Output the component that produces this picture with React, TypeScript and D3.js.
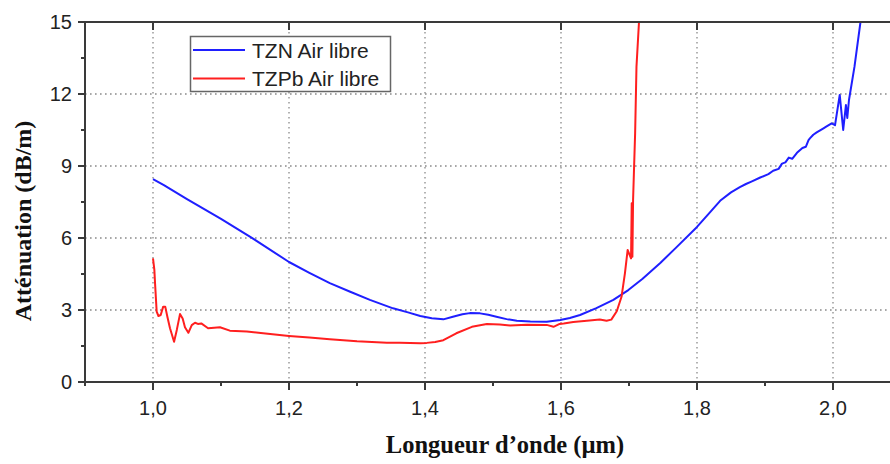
import React from 'react';
import * as d3 from 'd3';

// ---- data ----
const tznWavelength = [
  1.0, 1.016, 1.05, 1.1, 1.143, 1.2, 1.23, 1.26, 1.29, 1.319, 1.353, 1.375, 1.393, 1.41, 1.427,
  1.441, 1.455, 1.466, 1.481, 1.493, 1.505, 1.52, 1.535, 1.555, 1.579, 1.599, 1.613, 1.628, 1.652,
  1.677, 1.699, 1.72, 1.746, 1.77, 1.8, 1.82, 1.834, 1.85, 1.863, 1.872, 1.88, 1.893, 1.905, 1.912,
  1.92, 1.925, 1.93, 1.935, 1.94, 1.947, 1.955, 1.96, 1.964, 1.966, 1.971, 1.976, 1.986, 1.99,
  1.998, 2.003, 2.0099, 2.015, 2.019, 2.021, 2.0235, 2.0316, 2.0404, 2.046,
];
const tznAttenuation = [
  8.45, 8.2, 7.62, 6.8, 6.05, 5.0, 4.55, 4.12, 3.76, 3.42, 3.07, 2.9, 2.75, 2.66, 2.61,
  2.72, 2.82, 2.87, 2.86, 2.8, 2.72, 2.62, 2.55, 2.52, 2.51, 2.58, 2.67, 2.79, 3.08,
  3.42, 3.83, 4.3, 4.96, 5.62, 6.46, 7.1, 7.55, 7.9, 8.12, 8.25, 8.35, 8.52, 8.66, 8.8,
  8.88, 9.1, 9.15, 9.35, 9.3, 9.55, 9.75, 9.8, 10.08, 10.15, 10.3, 10.4, 10.57, 10.64,
  10.78, 10.7, 11.96, 10.5, 11.54, 11.0, 11.75, 13.14, 15.0, 16.5,
];
const tzpbWavelength = [
  1.0, 1.002, 1.003, 1.0054, 1.008, 1.0113, 1.015, 1.018, 1.0213, 1.025, 1.031, 1.035, 1.0397,
  1.0436, 1.047, 1.052, 1.057, 1.0618, 1.066, 1.071, 1.081, 1.09, 1.0985, 1.113, 1.138, 1.162,
  1.2, 1.23, 1.26, 1.3, 1.344, 1.363, 1.393, 1.4025, 1.415, 1.427, 1.446, 1.469, 1.491, 1.51,
  1.525, 1.55, 1.579, 1.589, 1.598, 1.604, 1.618, 1.638, 1.657, 1.667, 1.674, 1.682, 1.689,
  1.694, 1.698, 1.7, 1.703, 1.704, 1.705, 1.706, 1.709, 1.711, 1.7147, 1.718,
];
const tzpbAttenuation = [
  5.15, 4.67, 4.12, 2.93, 2.75, 2.79, 3.14, 3.14, 2.7, 2.24, 1.68, 2.17, 2.83,
  2.65, 2.28, 2.05, 2.37, 2.47, 2.42, 2.44, 2.24, 2.26, 2.28, 2.14, 2.1, 2.03,
  1.92, 1.85, 1.78, 1.7, 1.64, 1.64, 1.61, 1.63, 1.67, 1.74, 2.03, 2.3, 2.42, 2.4,
  2.35, 2.39, 2.38, 2.3, 2.42, 2.44, 2.5, 2.55, 2.6, 2.55, 2.6, 2.95, 3.55,
  4.53, 5.5, 5.36, 5.15, 7.45, 5.22, 7.58, 10.36, 13.14, 15.0, 16.5,
];
const seriesNames = ['TZN Air libre', 'TZPb Air libre'];
const seriesColors = ['#1f1fff', '#ff1f1f'];
const xMajorTicks = [1.0, 1.2, 1.4, 1.6, 1.8, 2.0];
const xMinorTicks = [0.9, 1.1, 1.3, 1.5, 1.7, 1.9, 2.1];
const yMajorTicks = [0, 3, 6, 9, 12, 15];
const yMinorTicks = [1.5, 4.5, 7.5, 10.5, 13.5];
const xTitle = 'Longueur d\u2019onde (\u00b5m)';
const yTitle = 'Att\u00e9nuation (dB/m)';

export default function App() {
  const W = 890, H = 464;
  const left = 85, right = 901, top = 22, bottom = 382;
  const x = d3.scaleLinear().domain([0.9, 2.1]).range([left, right]);
  const y = d3.scaleLinear().domain([0, 15]).range([bottom, top]);
  const line = d3.line<[number, number]>().x(d => x(d[0])).y(d => y(d[1]));
  const tzn = tznWavelength.map((w, i) => [w, tznAttenuation[i]] as [number, number]);
  const tzpb = tzpbWavelength.map((w, i) => [w, tzpbAttenuation[i]] as [number, number]);
  const fmtX = (v: number) => d3.format('.1f')(v).replace('.', ',');
  const axisColor = '#3a3a3a';
  const gridStyle = { stroke: '#8a8a8a', strokeWidth: 1.3, strokeDasharray: '1.6,3.4' };
  const sans = 'Arial, "Liberation Sans", sans-serif';
  const serif = '"Times New Roman", "Liberation Serif", serif';

  return (
    <svg width={W} height={H} style={{ position: 'absolute', left: 0, top: 0, background: '#fff' }}
      xmlns="http://www.w3.org/2000/svg">
      <defs>
        <clipPath id="plot">
          <rect x={left} y={top} width={right - left} height={bottom - top} />
        </clipPath>
      </defs>
      <rect x={0} y={0} width={W} height={H} fill="#fff" />
      {/* grid */}
      {xMajorTicks.map(t => (
        <line key={'gx' + t} x1={x(t)} x2={x(t)} y1={top} y2={bottom} {...gridStyle} />
      ))}
      {yMajorTicks.filter(t => t > 0 && t < 15).map(t => (
        <line key={'gy' + t} x1={left} x2={right} y1={y(t)} y2={y(t)} {...gridStyle} />
      ))}
      {/* series */}
      <g clipPath="url(#plot)">
        <path d={line(tzn) || ''} fill="none" stroke={seriesColors[0]} strokeWidth={2} strokeLinejoin="round" />
        <path d={line(tzpb) || ''} fill="none" stroke={seriesColors[1]} strokeWidth={2} strokeLinejoin="round" />
      </g>
      {/* axes */}
      <line x1={left} x2={right} y1={bottom} y2={bottom} stroke={axisColor} strokeWidth={2} />
      <line x1={left} x2={right} y1={top} y2={top} stroke={axisColor} strokeWidth={2} />
      <line x1={left} x2={left} y1={top} y2={bottom} stroke={axisColor} strokeWidth={2} />
      {xMajorTicks.map(t => (
        <g key={'xt' + t}>
          <line x1={x(t)} x2={x(t)} y1={bottom} y2={bottom + 8} stroke={axisColor} strokeWidth={2} />
          <line x1={x(t)} x2={x(t)} y1={top} y2={top + 8} stroke={axisColor} strokeWidth={2} />
          <text x={x(t)} y={415} textAnchor="middle" fontFamily={sans} fontSize={20} fill="#222">{fmtX(t)}</text>
        </g>
      ))}
      {xMinorTicks.map(t => (
        <line key={'xm' + t} x1={x(t)} x2={x(t)} y1={bottom} y2={bottom + 4} stroke={axisColor} strokeWidth={2} />
      ))}
      {yMajorTicks.map(t => (
        <g key={'yt' + t}>
          <line x1={left - 7} x2={left} y1={y(t)} y2={y(t)} stroke={axisColor} strokeWidth={2} />
          <text x={72} y={y(t) + 7} textAnchor="end" fontFamily={sans} fontSize={20} fill="#222">{t}</text>
        </g>
      ))}
      {yMinorTicks.map(t => (
        <line key={'ym' + t} x1={left - 4} x2={left} y1={y(t)} y2={y(t)} stroke={axisColor} strokeWidth={2} />
      ))}
      {/* titles */}
      <text x={505} y={453} textAnchor="middle" fontFamily={serif} fontWeight="bold" fontSize={24.5} fill="#111">{xTitle}</text>
      <text transform="translate(31,221) rotate(-90)" textAnchor="middle" fontFamily={serif} fontWeight="bold" fontSize={24} fill="#111">{yTitle}</text>
      {/* legend */}
      <rect x={190.5} y={36.5} width={200} height={55} fill="#fff" stroke="#666" strokeWidth={1.5} />
      {seriesNames.map((name, i) => (
        <g key={name}>
          <line x1={193} x2={245} y1={50 + i * 28.5} y2={50 + i * 28.5} stroke={seriesColors[i]} strokeWidth={2} />
          <text x={252} y={50 + i * 28.5 + 7.5} fontFamily={sans} fontSize={21} fill="#222">{name}</text>
        </g>
      ))}
    </svg>
  );
}
